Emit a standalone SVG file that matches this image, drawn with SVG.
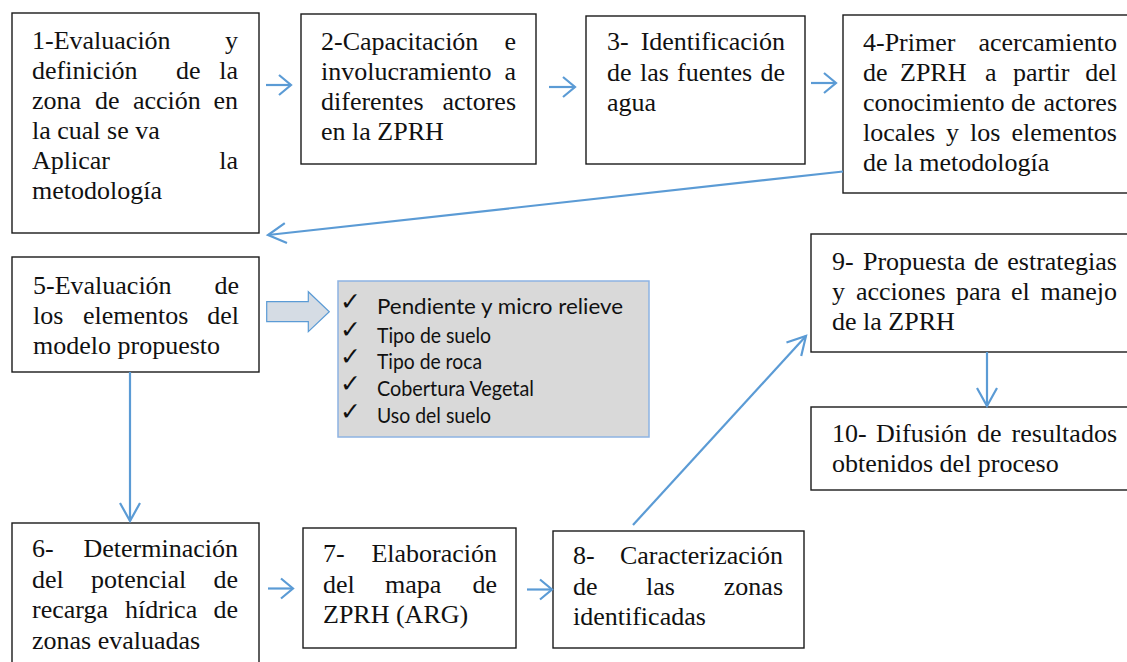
<svg xmlns="http://www.w3.org/2000/svg" width="1127" height="662" viewBox="0 0 1127 662">
<style>
.box{fill:#ffffff;stroke:#1a1a1a;stroke-width:1.4}
.t{font-family:"Liberation Serif","Times New Roman",serif;font-size:26px;fill:#111111}
.e{text-anchor:end}
.conn{stroke:#5b9bd5;stroke-width:2.2;fill:none}
.li{font-family:Lato,"Liberation Sans",sans-serif;font-size:21px;fill:#111111}
.ck{font-family:"DejaVu Sans",sans-serif;font-size:25px;fill:#111111}
</style>
<defs>
<marker id="arr" markerUnits="userSpaceOnUse" markerWidth="30" markerHeight="30" refX="0" refY="0" viewBox="-15 -15 30 30" orient="auto"><path d="M-12,-10 L0,0 L-12,10" fill="none" stroke="#5b9bd5" stroke-width="2.2"/></marker>
<marker id="arrL" markerUnits="userSpaceOnUse" markerWidth="40" markerHeight="40" refX="0" refY="0" viewBox="-20 -20 40 40" orient="auto"><path d="M-18,-10 L0,0 L-18,10" fill="none" stroke="#5b9bd5" stroke-width="2.2"/></marker>
</defs>
<rect width="1127" height="662" fill="#ffffff"/>

<g id="n1">
<rect class="box" x="12" y="13" width="247" height="220"/>
<text class="t" x="32" y="49">1-Evaluación</text><text class="t e" x="238" y="49">y</text>
<text class="t" x="32" y="79">definición</text><text class="t" x="176" y="79">de</text><text class="t e" x="238" y="79">la</text>
<text class="t" x="32" y="109">zona</text><text class="t" x="95" y="109">de</text><text class="t" x="133" y="109">acción</text><text class="t e" x="238" y="109">en</text>
<text class="t" x="32" y="139">la cual se va</text>
<text class="t" x="32" y="169">Aplicar</text><text class="t e" x="238" y="169">la</text>
<text class="t" x="32" y="199">metodología</text>
</g>

<g id="n2">
<rect class="box" x="301" y="14" width="235" height="150"/>
<text class="t" x="321" y="50">2-Capacitación</text><text class="t e" x="516" y="50">e</text>
<text class="t" x="321" y="80">involucramiento</text><text class="t e" x="516" y="80">a</text>
<text class="t" x="321" y="110">diferentes</text><text class="t e" x="516" y="110">actores</text>
<text class="t" x="321" y="140">en la ZPRH</text>
</g>

<g id="n3">
<rect class="box" x="586" y="16" width="219" height="148"/>
<text class="t" x="607" y="50">3-</text><text class="t e" x="785" y="50">Identificación</text>
<text class="t" x="607" y="81">de</text><text class="t" x="640" y="81">las</text><text class="t" x="677" y="81">fuentes</text><text class="t e" x="785" y="81">de</text>
<text class="t" x="607" y="111">agua</text>
</g>

<g id="n4">
<rect class="box" x="843" y="15" width="300" height="178"/>
<text class="t" x="863" y="51">4-Primer</text><text class="t e" x="1117" y="51">acercamiento</text>
<text class="t" x="863" y="81">de</text><text class="t" x="900" y="81">ZPRH</text><text class="t" x="985" y="81">a</text><text class="t" x="1013" y="81">partir</text><text class="t e" x="1117" y="81">del</text>
<text class="t" x="863" y="111">conocimiento</text><text class="t" x="1011" y="111">de</text><text class="t e" x="1117" y="111">actores</text>
<text class="t" x="863" y="141">locales</text><text class="t" x="946" y="141">y</text><text class="t" x="970" y="141">los</text><text class="t e" x="1117" y="141">elementos</text>
<text class="t" x="863" y="171">de la metodología</text>
</g>

<g id="n5">
<rect class="box" x="12" y="257" width="247" height="115"/>
<text class="t" x="33" y="294">5-Evaluación</text><text class="t e" x="239" y="294">de</text>
<text class="t" x="33" y="324">los</text><text class="t" x="83" y="324">elementos</text><text class="t e" x="239" y="324">del</text>
<text class="t" x="33" y="354">modelo propuesto</text>
</g>

<g id="list">
<path d="M266.7,301.7 H308.3 V291.7 L329.3,311.7 L308.3,331.7 V321.7 H266.7 Z" fill="#d5dce4" stroke="#5b9bd5" stroke-width="1.2"/>
<rect x="338" y="281" width="311" height="156" fill="#d9d9d9" stroke="#8db3e2" stroke-width="1.5"/>
<text class="ck" x="340" y="310">✓</text><text class="li" x="377" y="314" font-size="24" textLength="246" lengthAdjust="spacingAndGlyphs">Pendiente y micro relieve</text>
<text class="ck" x="340" y="338">✓</text><text class="li" x="377" y="342.5" textLength="114" lengthAdjust="spacingAndGlyphs">Tipo de suelo</text>
<text class="ck" x="340" y="365">✓</text><text class="li" x="377" y="369" textLength="105" lengthAdjust="spacingAndGlyphs">Tipo de roca</text>
<text class="ck" x="340" y="392">✓</text><text class="li" x="377" y="396" textLength="157" lengthAdjust="spacingAndGlyphs">Cobertura Vegetal</text>
<text class="ck" x="340" y="420">✓</text><text class="li" x="377" y="422.5" textLength="114" lengthAdjust="spacingAndGlyphs">Uso del suelo</text>
</g>

<g id="n6">
<rect class="box" x="12" y="523" width="247" height="160"/>
<text class="t" x="32" y="557">6-</text><text class="t e" x="238" y="557">Determinación</text>
<text class="t" x="32" y="588">del</text><text class="t" x="91" y="588">potencial</text><text class="t e" x="238" y="588">de</text>
<text class="t" x="32" y="618">recarga</text><text class="t" x="125" y="618">hídrica</text><text class="t e" x="238" y="618">de</text>
<text class="t" x="32" y="649">zonas evaluadas</text>
</g>

<g id="n7">
<rect class="box" x="303" y="528" width="213" height="120"/>
<text class="t" x="323" y="562">7-</text><text class="t e" x="497" y="562">Elaboración</text>
<text class="t" x="323" y="593">del</text><text class="t" x="385" y="593">mapa</text><text class="t e" x="497" y="593">de</text>
<text class="t" x="323" y="623">ZPRH (ARG)</text>
</g>

<g id="n8">
<rect class="box" x="553" y="531" width="251" height="117"/>
<text class="t" x="573" y="564">8-</text><text class="t e" x="783" y="564">Caracterización</text>
<text class="t" x="573" y="595">de</text><text class="t" x="646" y="595">las</text><text class="t e" x="783" y="595">zonas</text>
<text class="t" x="573" y="625">identificadas</text>
</g>

<g id="n9">
<rect class="box" x="811" y="234" width="330" height="118"/>
<text class="t" x="832" y="270">9-</text><text class="t" x="863" y="270">Propuesta</text><text class="t" x="974" y="270">de</text><text class="t e" x="1117" y="270">estrategias</text>
<text class="t" x="832" y="300">y</text><text class="t" x="856" y="300">acciones</text><text class="t" x="956" y="300">para</text><text class="t" x="1011" y="300">el</text><text class="t e" x="1117" y="300">manejo</text>
<text class="t" x="832" y="330">de la ZPRH</text>
</g>

<g id="n10">
<rect class="box" x="811" y="407" width="330" height="83"/>
<text class="t" x="832" y="442">10-</text><text class="t" x="876" y="442">Difusión</text><text class="t" x="977" y="442">de</text><text class="t e" x="1117" y="442">resultados</text>
<text class="t" x="832" y="472">obtenidos del proceso</text>
</g>

<g id="connectors">
<line class="conn" x1="266" y1="85" x2="291" y2="85" marker-end="url(#arr)"/>
<line class="conn" x1="549" y1="87" x2="575" y2="87" marker-end="url(#arr)"/>
<line class="conn" x1="811" y1="83" x2="836" y2="83" marker-end="url(#arr)"/>
<line class="conn" x1="843" y1="171.5" x2="268" y2="235" marker-end="url(#arrL)"/>
<line class="conn" x1="130" y1="372" x2="130" y2="521" marker-end="url(#arrL)"/>
<line class="conn" x1="268" y1="588.5" x2="293" y2="588.5" marker-end="url(#arr)"/>
<line class="conn" x1="527" y1="589.5" x2="552" y2="589.5" marker-end="url(#arr)"/>
<line class="conn" x1="633" y1="525" x2="806" y2="336" marker-end="url(#arrL)"/>
<line class="conn" x1="987" y1="352" x2="987" y2="406" marker-end="url(#arrL)"/>
</g>
</svg>
